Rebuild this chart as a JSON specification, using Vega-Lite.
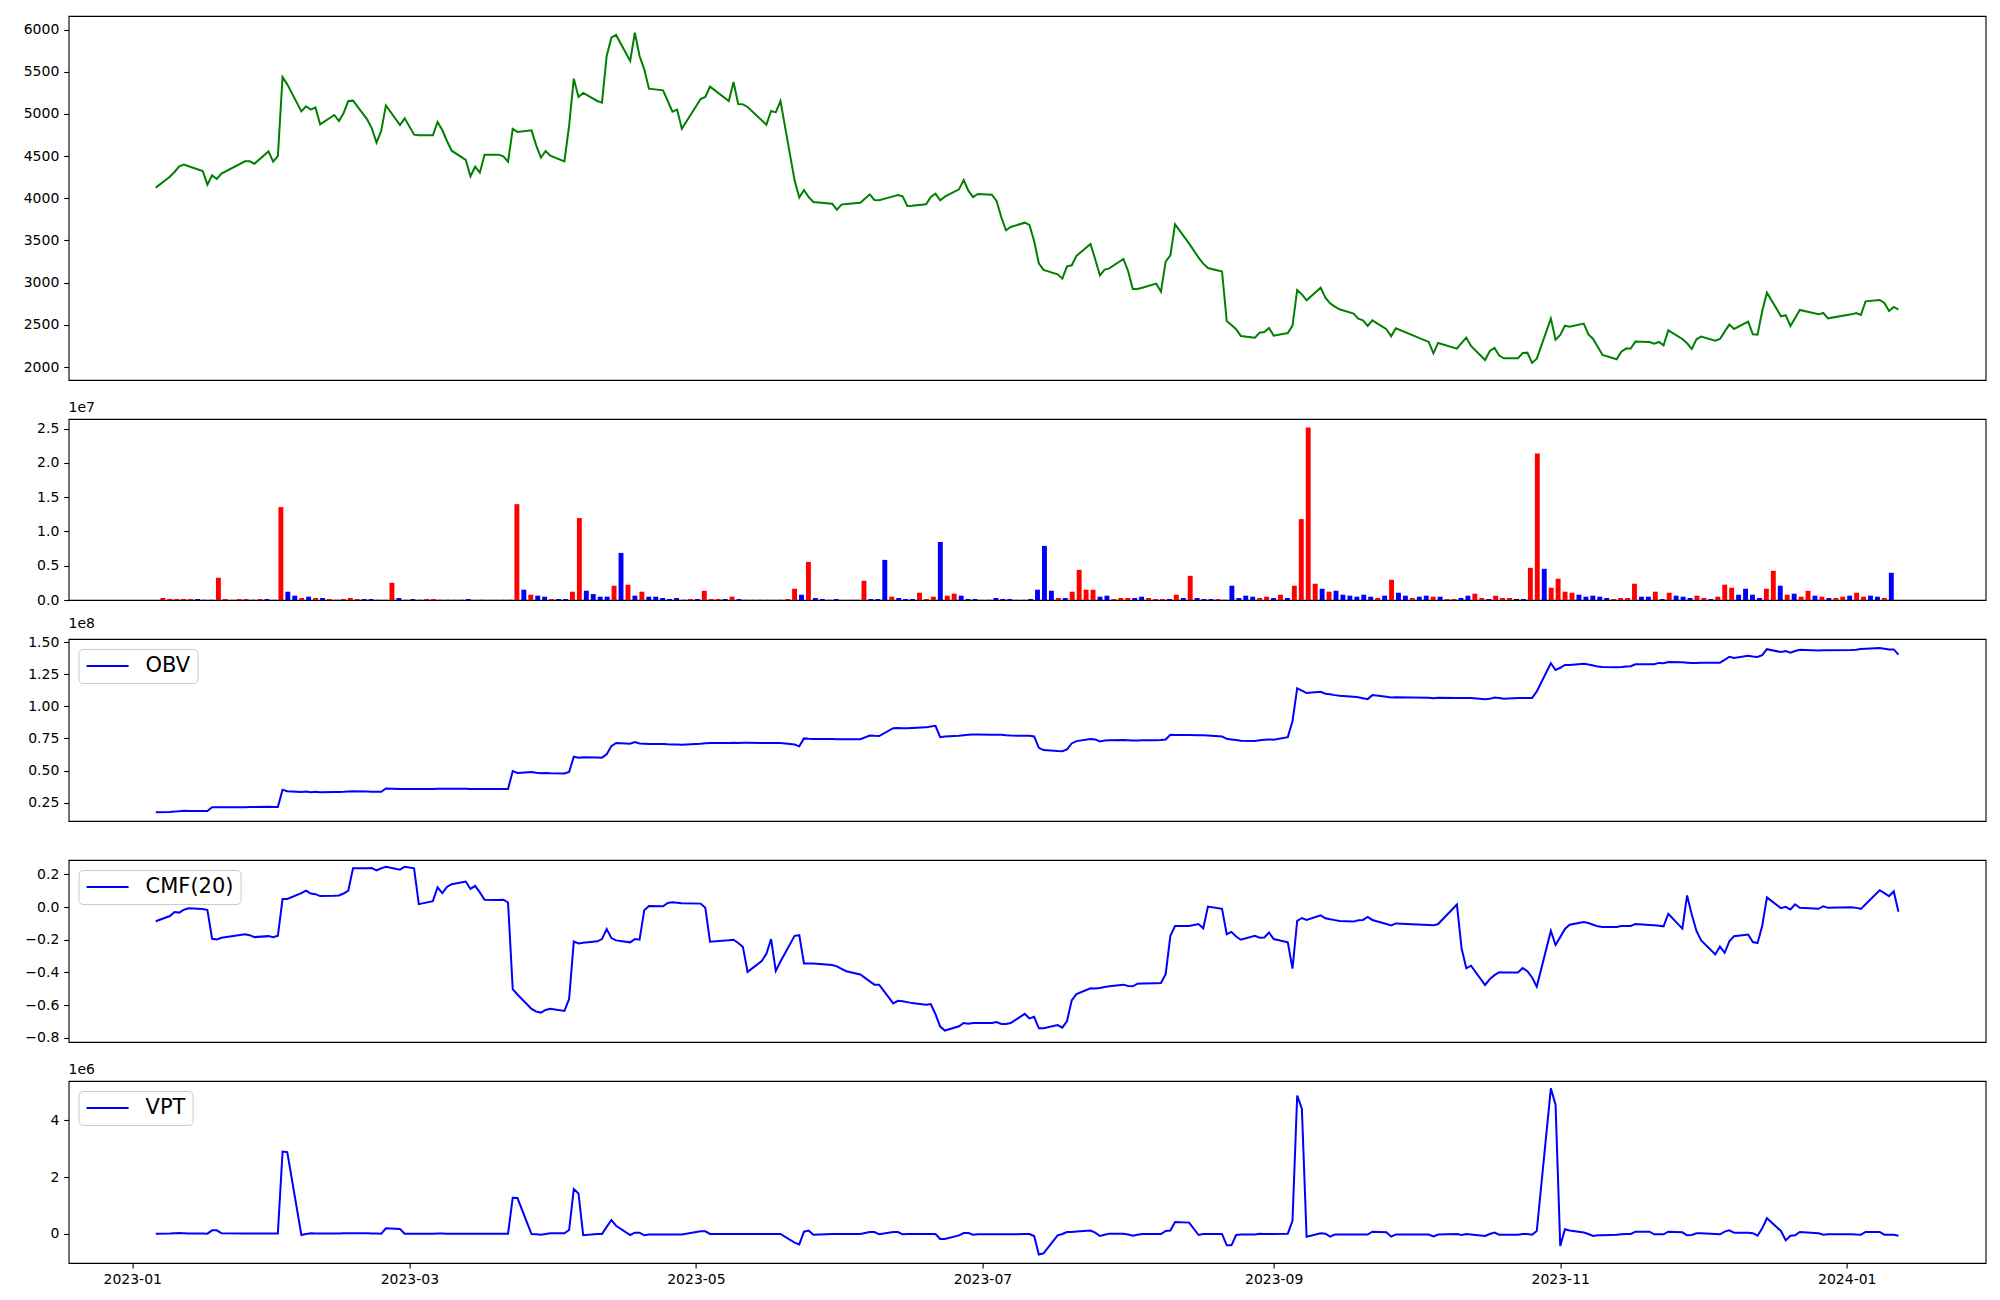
{
"$schema": "https://vega.github.io/schema/vega-lite/v6.json",
"padding": {"left": 22.6, "top": 15, "right": 0, "bottom": 0},
"background": "white",
"bounds": "flush",
"spacing": 39,
"config": {
  "font": "DejaVu Sans",
  "view": {"stroke": "#000000", "strokeWidth": 1.1},
  "axis": {"labelFont": "DejaVu Sans", "labelFontSize": 14, "labelColor": "#000000", "tickColor": "#000000", "tickSize": 4.9, "tickWidth": 1.1, "labelPadding": 4.9, "domain": false, "grid": false},
  "title": {"font": "DejaVu Sans", "fontSize": 14, "fontWeight": "normal", "color": "#000000", "anchor": "start", "frame": "group", "offset": 4},
  "legend": {"orient": "top-left", "offset": 10.4, "padding": 7, "fillColor": "rgba(255,255,255,0.8)", "strokeColor": "#cccccc", "cornerRadius": 4, "symbolType": "stroke", "symbolSize": 1764, "symbolStrokeWidth": 2, "labelFont": "DejaVu Sans", "labelFontSize": 21, "labelColor": "#000000", "labelOffset": 16, "clipHeight": 20}
},
"resolve": {"scale": {"x": "independent", "y": "independent", "color": "independent"}, "legend": {"color": "independent"}},
"datasets": {"d": [
{"date":"2023-01-06","idx":0,"close":4126,"volume":290000,"dir":"up","obv":17600000,"cmf":-0.087,"vpt":12000},
{"date":"2023-01-09","idx":1,"close":4256,"volume":150000,"dir":"up","obv":17800000,"cmf":-0.055,"vpt":20000},
{"date":"2023-01-10","idx":2,"close":4312,"volume":150000,"dir":"up","obv":18000000,"cmf":-0.030,"vpt":30000},
{"date":"2023-01-11","idx":3,"close":4379,"volume":150000,"dir":"up","obv":18300000,"cmf":-0.034,"vpt":35000},
{"date":"2023-01-12","idx":4,"close":4399,"volume":150000,"dir":"up","obv":18600000,"cmf":-0.016,"vpt":30000},
{"date":"2023-01-13","idx":5,"close":4379,"volume":150000,"dir":"down","obv":18500000,"cmf":-0.008,"vpt":20000},
{"date":"2023-01-16","idx":6,"close":4324,"volume":30000,"dir":"down","obv":18500000,"cmf":-0.012,"vpt":15000},
{"date":"2023-01-17","idx":7,"close":4162,"volume":30000,"dir":"down","obv":18400000,"cmf":-0.018,"vpt":12000},
{"date":"2023-01-18","idx":8,"close":4272,"volume":3240000,"dir":"up","obv":21400000,"cmf":-0.194,"vpt":129000},
{"date":"2023-01-19","idx":9,"close":4229,"volume":150000,"dir":"up","obv":21400000,"cmf":-0.198,"vpt":129000},
{"date":"2023-01-20","idx":10,"close":4292,"volume":30000,"dir":"up","obv":21400000,"cmf":-0.188,"vpt":23000},
{"date":"2023-01-25","idx":11,"close":4438,"volume":150000,"dir":"up","obv":21500000,"cmf":-0.166,"vpt":20000},
{"date":"2023-01-26","idx":12,"close":4438,"volume":150000,"dir":"up","obv":21600000,"cmf":-0.172,"vpt":20000},
{"date":"2023-01-27","idx":13,"close":4410,"volume":30000,"dir":"down","obv":21600000,"cmf":-0.184,"vpt":20000},
{"date":"2023-01-30","idx":14,"close":4556,"volume":150000,"dir":"up","obv":21700000,"cmf":-0.178,"vpt":20000},
{"date":"2023-01-31","idx":15,"close":4434,"volume":150000,"dir":"down","obv":21600000,"cmf":-0.184,"vpt":20000},
{"date":"2023-02-01","idx":16,"close":4501,"volume":30000,"dir":"up","obv":21600000,"cmf":-0.176,"vpt":20000},
{"date":"2023-02-02","idx":17,"close":5437,"volume":13550000,"dir":"up","obv":35100000,"cmf":0.049,"vpt":2900000},
{"date":"2023-02-03","idx":18,"close":5350,"volume":1210000,"dir":"down","obv":33900000,"cmf":0.049,"vpt":2880000},
{"date":"2023-02-06","idx":19,"close":5030,"volume":630000,"dir":"down","obv":33300000,"cmf":0.085,"vpt":-35000},
{"date":"2023-02-07","idx":20,"close":5090,"volume":290000,"dir":"up","obv":33600000,"cmf":0.101,"vpt":0},
{"date":"2023-02-08","idx":21,"close":5050,"volume":480000,"dir":"down","obv":33100000,"cmf":0.083,"vpt":23000},
{"date":"2023-02-09","idx":22,"close":5078,"volume":290000,"dir":"up","obv":33400000,"cmf":0.079,"vpt":20000},
{"date":"2023-02-10","idx":23,"close":4876,"volume":290000,"dir":"down","obv":33100000,"cmf":0.067,"vpt":20000},
{"date":"2023-02-13","idx":24,"close":4987,"volume":150000,"dir":"up","obv":33300000,"cmf":0.069,"vpt":20000},
{"date":"2023-02-14","idx":25,"close":4916,"volume":30000,"dir":"down","obv":33300000,"cmf":0.071,"vpt":20000},
{"date":"2023-02-15","idx":26,"close":5011,"volume":150000,"dir":"up","obv":33400000,"cmf":0.083,"vpt":25000},
{"date":"2023-02-16","idx":27,"close":5153,"volume":290000,"dir":"up","obv":33700000,"cmf":0.101,"vpt":30000},
{"date":"2023-02-17","idx":28,"close":5157,"volume":150000,"dir":"up","obv":33800000,"cmf":0.237,"vpt":30000},
{"date":"2023-02-20","idx":29,"close":4936,"volume":150000,"dir":"down","obv":33700000,"cmf":0.238,"vpt":25000},
{"date":"2023-02-21","idx":30,"close":4829,"volume":150000,"dir":"down","obv":33500000,"cmf":0.239,"vpt":20000},
{"date":"2023-02-22","idx":31,"close":4659,"volume":30000,"dir":"down","obv":33500000,"cmf":0.225,"vpt":15000},
{"date":"2023-02-23","idx":32,"close":4797,"volume":30000,"dir":"up","obv":33500000,"cmf":0.237,"vpt":12000},
{"date":"2023-02-24","idx":33,"close":5101,"volume":2520000,"dir":"up","obv":36000000,"cmf":0.247,"vpt":199000},
{"date":"2023-02-27","idx":34,"close":4868,"volume":290000,"dir":"down","obv":35700000,"cmf":0.229,"vpt":175000},
{"date":"2023-02-28","idx":35,"close":4947,"volume":30000,"dir":"up","obv":35700000,"cmf":0.247,"vpt":12000},
{"date":"2023-03-02","idx":36,"close":4754,"volume":150000,"dir":"down","obv":35600000,"cmf":0.237,"vpt":10000},
{"date":"2023-03-03","idx":37,"close":4746,"volume":30000,"dir":"down","obv":35600000,"cmf":0.018,"vpt":10000},
{"date":"2023-03-06","idx":38,"close":4746,"volume":150000,"dir":"up","obv":35700000,"cmf":0.036,"vpt":12000},
{"date":"2023-03-07","idx":39,"close":4904,"volume":150000,"dir":"up","obv":35900000,"cmf":0.121,"vpt":15000},
{"date":"2023-03-08","idx":40,"close":4809,"volume":30000,"dir":"down","obv":35900000,"cmf":0.085,"vpt":15000},
{"date":"2023-03-09","idx":41,"close":4679,"volume":30000,"dir":"down","obv":35900000,"cmf":0.123,"vpt":12000},
{"date":"2023-03-10","idx":42,"close":4564,"volume":30000,"dir":"down","obv":35800000,"cmf":0.140,"vpt":10000},
{"date":"2023-03-13","idx":43,"close":4454,"volume":30000,"dir":"down","obv":35800000,"cmf":0.156,"vpt":10000},
{"date":"2023-03-14","idx":44,"close":4260,"volume":150000,"dir":"down","obv":35600000,"cmf":0.111,"vpt":10000},
{"date":"2023-03-15","idx":45,"close":4375,"volume":30000,"dir":"up","obv":35600000,"cmf":0.130,"vpt":12000},
{"date":"2023-03-16","idx":46,"close":4304,"volume":30000,"dir":"down","obv":35600000,"cmf":0.090,"vpt":12000},
{"date":"2023-03-17","idx":47,"close":4517,"volume":30000,"dir":"up","obv":35600000,"cmf":0.045,"vpt":12000},
{"date":"2023-03-20","idx":48,"close":4517,"volume":30000,"dir":"up","obv":35600000,"cmf":0.043,"vpt":12000},
{"date":"2023-03-21","idx":49,"close":4497,"volume":30000,"dir":"down","obv":35600000,"cmf":0.045,"vpt":12000},
{"date":"2023-03-22","idx":50,"close":4434,"volume":30000,"dir":"down","obv":35600000,"cmf":0.028,"vpt":12000},
{"date":"2023-03-23","idx":51,"close":4821,"volume":13980000,"dir":"up","obv":49600000,"cmf":-0.502,"vpt":1275000},
{"date":"2023-03-24","idx":52,"close":4786,"volume":1500000,"dir":"down","obv":48100000,"cmf":-0.535,"vpt":1263000},
{"date":"2023-03-27","idx":53,"close":4805,"volume":770000,"dir":"up","obv":48900000,"cmf":-0.623,"vpt":0},
{"date":"2023-03-28","idx":54,"close":4627,"volume":630000,"dir":"down","obv":48300000,"cmf":-0.640,"vpt":-10000},
{"date":"2023-03-29","idx":55,"close":4481,"volume":480000,"dir":"down","obv":47800000,"cmf":-0.646,"vpt":-23000},
{"date":"2023-03-30","idx":56,"close":4560,"volume":150000,"dir":"up","obv":48000000,"cmf":-0.630,"vpt":0},
{"date":"2023-03-31","idx":57,"close":4505,"volume":150000,"dir":"down","obv":47800000,"cmf":-0.623,"vpt":23000},
{"date":"2023-04-03","idx":58,"close":4438,"volume":150000,"dir":"down","obv":47700000,"cmf":-0.636,"vpt":23000},
{"date":"2023-04-04","idx":59,"close":4857,"volume":1210000,"dir":"up","obv":48900000,"cmf":-0.563,"vpt":140000},
{"date":"2023-04-05","idx":60,"close":5417,"volume":11950000,"dir":"up","obv":60800000,"cmf":-0.211,"vpt":1579000},
{"date":"2023-04-06","idx":61,"close":5200,"volume":1350000,"dir":"down","obv":60000000,"cmf":-0.223,"vpt":1427000},
{"date":"2023-04-07","idx":62,"close":5248,"volume":870000,"dir":"down","obv":60400000,"cmf":-0.218,"vpt":-40000},
{"date":"2023-04-10","idx":63,"close":5153,"volume":480000,"dir":"down","obv":60200000,"cmf":-0.210,"vpt":0},
{"date":"2023-04-11","idx":64,"close":5133,"volume":480000,"dir":"down","obv":60000000,"cmf":-0.196,"vpt":0},
{"date":"2023-04-12","idx":65,"close":5686,"volume":2080000,"dir":"up","obv":62600000,"cmf":-0.134,"vpt":250000},
{"date":"2023-04-13","idx":66,"close":5903,"volume":6870000,"dir":"down","obv":69000000,"cmf":-0.190,"vpt":490000},
{"date":"2023-04-14","idx":67,"close":5935,"volume":2230000,"dir":"up","obv":71400000,"cmf":-0.204,"vpt":290000},
{"date":"2023-04-17","idx":68,"close":5627,"volume":630000,"dir":"down","obv":70900000,"cmf":-0.216,"vpt":-35000},
{"date":"2023-04-18","idx":69,"close":5962,"volume":1210000,"dir":"up","obv":72200000,"cmf":-0.196,"vpt":47000},
{"date":"2023-04-19","idx":70,"close":5686,"volume":480000,"dir":"down","obv":71100000,"cmf":-0.200,"vpt":47000},
{"date":"2023-04-20","idx":71,"close":5528,"volume":480000,"dir":"down","obv":70900000,"cmf":-0.019,"vpt":-47000},
{"date":"2023-04-21","idx":72,"close":5299,"volume":290000,"dir":"down","obv":70700000,"cmf":0.007,"vpt":-20000},
{"date":"2023-04-24","idx":73,"close":5279,"volume":150000,"dir":"down","obv":70600000,"cmf":0.005,"vpt":-20000},
{"date":"2023-04-25","idx":74,"close":5153,"volume":290000,"dir":"down","obv":70400000,"cmf":0.025,"vpt":-20000},
{"date":"2023-04-26","idx":75,"close":5026,"volume":30000,"dir":"down","obv":70300000,"cmf":0.029,"vpt":-20000},
{"date":"2023-04-27","idx":76,"close":5050,"volume":150000,"dir":"up","obv":70200000,"cmf":0.026,"vpt":-20000},
{"date":"2023-04-28","idx":77,"close":4825,"volume":150000,"dir":"down","obv":70100000,"cmf":0.023,"vpt":-20000},
{"date":"2023-05-02","idx":78,"close":5176,"volume":1350000,"dir":"up","obv":70800000,"cmf":0.021,"vpt":94000},
{"date":"2023-05-03","idx":79,"close":5200,"volume":150000,"dir":"up","obv":71200000,"cmf":-0.005,"vpt":94000},
{"date":"2023-05-04","idx":80,"close":5323,"volume":150000,"dir":"up","obv":71400000,"cmf":-0.212,"vpt":0},
{"date":"2023-05-08","idx":81,"close":5153,"volume":150000,"dir":"down","obv":71500000,"cmf":-0.203,"vpt":0},
{"date":"2023-05-09","idx":82,"close":5378,"volume":480000,"dir":"up","obv":71600000,"cmf":-0.200,"vpt":0},
{"date":"2023-05-10","idx":83,"close":5117,"volume":150000,"dir":"down","obv":71500000,"cmf":-0.220,"vpt":0},
{"date":"2023-05-11","idx":84,"close":5113,"volume":30000,"dir":"down","obv":71600000,"cmf":-0.244,"vpt":0},
{"date":"2023-05-12","idx":85,"close":5082,"volume":30000,"dir":"down","obv":71600000,"cmf":-0.397,"vpt":0},
{"date":"2023-05-15","idx":86,"close":4924,"volume":30000,"dir":"down","obv":71500000,"cmf":-0.331,"vpt":0},
{"date":"2023-05-16","idx":87,"close":4872,"volume":30000,"dir":"down","obv":71500000,"cmf":-0.286,"vpt":0},
{"date":"2023-05-17","idx":88,"close":5034,"volume":30000,"dir":"up","obv":71500000,"cmf":-0.196,"vpt":0},
{"date":"2023-05-18","idx":89,"close":5018,"volume":30000,"dir":"down","obv":71400000,"cmf":-0.391,"vpt":0},
{"date":"2023-05-19","idx":90,"close":5153,"volume":150000,"dir":"up","obv":71400000,"cmf":-0.333,"vpt":0},
{"date":"2023-05-22","idx":91,"close":4213,"volume":1640000,"dir":"up","obv":70200000,"cmf":-0.176,"vpt":-306000},
{"date":"2023-05-23","idx":92,"close":4008,"volume":770000,"dir":"down","obv":68800000,"cmf":-0.172,"vpt":-365000},
{"date":"2023-05-24","idx":93,"close":4098,"volume":5560000,"dir":"up","obv":75000000,"cmf":-0.345,"vpt":82000},
{"date":"2023-05-25","idx":94,"close":4015,"volume":290000,"dir":"down","obv":74700000,"cmf":-0.345,"vpt":118000},
{"date":"2023-05-26","idx":95,"close":3956,"volume":150000,"dir":"down","obv":74500000,"cmf":-0.345,"vpt":-24000},
{"date":"2023-05-30","idx":96,"close":3936,"volume":30000,"dir":"down","obv":74500000,"cmf":-0.355,"vpt":0},
{"date":"2023-05-31","idx":97,"close":3865,"volume":150000,"dir":"down","obv":74400000,"cmf":-0.363,"vpt":0},
{"date":"2023-06-01","idx":98,"close":3925,"volume":30000,"dir":"up","obv":74300000,"cmf":-0.378,"vpt":0},
{"date":"2023-06-02","idx":99,"close":3933,"volume":30000,"dir":"up","obv":74300000,"cmf":-0.393,"vpt":0},
{"date":"2023-06-05","idx":100,"close":3948,"volume":30000,"dir":"up","obv":74400000,"cmf":-0.413,"vpt":0},
{"date":"2023-06-07","idx":101,"close":4047,"volume":2810000,"dir":"up","obv":77300000,"cmf":-0.455,"vpt":70000},
{"date":"2023-06-08","idx":102,"close":3980,"volume":150000,"dir":"down","obv":77000000,"cmf":-0.475,"vpt":70000},
{"date":"2023-06-09","idx":103,"close":3976,"volume":150000,"dir":"down","obv":76800000,"cmf":-0.475,"vpt":-10000},
{"date":"2023-06-12","idx":104,"close":4023,"volume":5850000,"dir":"down","obv":83000000,"cmf":-0.590,"vpt":70000},
{"date":"2023-06-13","idx":105,"close":4039,"volume":480000,"dir":"up","obv":83200000,"cmf":-0.574,"vpt":70000},
{"date":"2023-06-14","idx":106,"close":4023,"volume":290000,"dir":"down","obv":82900000,"cmf":-0.576,"vpt":-10000},
{"date":"2023-06-15","idx":107,"close":3909,"volume":150000,"dir":"down","obv":83000000,"cmf":-0.582,"vpt":0},
{"date":"2023-06-16","idx":108,"close":3913,"volume":150000,"dir":"down","obv":83100000,"cmf":-0.588,"vpt":0},
{"date":"2023-06-19","idx":109,"close":3929,"volume":1060000,"dir":"up","obv":83600000,"cmf":-0.598,"vpt":0},
{"date":"2023-06-20","idx":110,"close":4015,"volume":150000,"dir":"up","obv":84200000,"cmf":-0.594,"vpt":0},
{"date":"2023-06-21","idx":111,"close":4055,"volume":480000,"dir":"up","obv":84800000,"cmf":-0.656,"vpt":0},
{"date":"2023-06-22","idx":112,"close":3976,"volume":8470000,"dir":"down","obv":76000000,"cmf":-0.732,"vpt":-176000},
{"date":"2023-06-23","idx":113,"close":4019,"volume":630000,"dir":"up","obv":76500000,"cmf":-0.756,"vpt":-176000},
{"date":"2023-06-26","idx":114,"close":4106,"volume":920000,"dir":"up","obv":77000000,"cmf":-0.730,"vpt":-50000},
{"date":"2023-06-27","idx":115,"close":4217,"volume":630000,"dir":"down","obv":77500000,"cmf":-0.710,"vpt":35000},
{"date":"2023-06-28","idx":116,"close":4090,"volume":150000,"dir":"down","obv":77800000,"cmf":-0.714,"vpt":35000},
{"date":"2023-06-29","idx":117,"close":4015,"volume":150000,"dir":"down","obv":78100000,"cmf":-0.710,"vpt":-24000},
{"date":"2023-06-30","idx":118,"close":4051,"volume":30000,"dir":"up","obv":78000000,"cmf":-0.710,"vpt":-10000},
{"date":"2023-07-03","idx":119,"close":4043,"volume":30000,"dir":"down","obv":77900000,"cmf":-0.710,"vpt":-10000},
{"date":"2023-07-04","idx":120,"close":3968,"volume":290000,"dir":"down","obv":77800000,"cmf":-0.704,"vpt":-10000},
{"date":"2023-07-05","idx":121,"close":3778,"volume":150000,"dir":"down","obv":77800000,"cmf":-0.716,"vpt":-10000},
{"date":"2023-07-06","idx":122,"close":3621,"volume":150000,"dir":"down","obv":77400000,"cmf":-0.716,"vpt":-10000},
{"date":"2023-07-07","idx":123,"close":3660,"volume":30000,"dir":"up","obv":77200000,"cmf":-0.710,"vpt":-10000},
{"date":"2023-07-10","idx":124,"close":3711,"volume":30000,"dir":"up","obv":77100000,"cmf":-0.654,"vpt":0},
{"date":"2023-07-11","idx":125,"close":3684,"volume":150000,"dir":"down","obv":77100000,"cmf":-0.682,"vpt":0},
{"date":"2023-07-12","idx":126,"close":3494,"volume":1500000,"dir":"down","obv":76500000,"cmf":-0.672,"vpt":-70000},
{"date":"2023-07-13","idx":127,"close":3230,"volume":7890000,"dir":"down","obv":67700000,"cmf":-0.742,"vpt":-720000},
{"date":"2023-07-14","idx":128,"close":3151,"volume":1350000,"dir":"down","obv":65900000,"cmf":-0.742,"vpt":-680000},
{"date":"2023-07-17","idx":129,"close":3099,"volume":290000,"dir":"up","obv":65200000,"cmf":-0.722,"vpt":-50000},
{"date":"2023-07-18","idx":130,"close":3048,"volume":290000,"dir":"down","obv":65100000,"cmf":-0.738,"vpt":0},
{"date":"2023-07-19","idx":131,"close":3194,"volume":1210000,"dir":"up","obv":66400000,"cmf":-0.698,"vpt":70000},
{"date":"2023-07-20","idx":132,"close":3206,"volume":4400000,"dir":"up","obv":71100000,"cmf":-0.571,"vpt":70000},
{"date":"2023-07-21","idx":133,"close":3317,"volume":1500000,"dir":"up","obv":72900000,"cmf":-0.533,"vpt":90000},
{"date":"2023-07-24","idx":134,"close":3459,"volume":1500000,"dir":"up","obv":74500000,"cmf":-0.497,"vpt":120000},
{"date":"2023-07-25","idx":135,"close":3277,"volume":480000,"dir":"down","obv":74200000,"cmf":-0.499,"vpt":50000},
{"date":"2023-07-26","idx":136,"close":3087,"volume":630000,"dir":"down","obv":72700000,"cmf":-0.495,"vpt":-70000},
{"date":"2023-07-27","idx":137,"close":3155,"volume":150000,"dir":"up","obv":73300000,"cmf":-0.490,"vpt":-30000},
{"date":"2023-07-28","idx":138,"close":3170,"volume":290000,"dir":"up","obv":73500000,"cmf":-0.485,"vpt":12000},
{"date":"2023-07-31","idx":139,"close":3281,"volume":290000,"dir":"up","obv":73700000,"cmf":-0.475,"vpt":12000},
{"date":"2023-08-01","idx":140,"close":3139,"volume":290000,"dir":"down","obv":73600000,"cmf":-0.483,"vpt":-20000},
{"date":"2023-08-02","idx":141,"close":2926,"volume":480000,"dir":"down","obv":73400000,"cmf":-0.485,"vpt":-60000},
{"date":"2023-08-03","idx":142,"close":2926,"volume":290000,"dir":"up","obv":73400000,"cmf":-0.469,"vpt":-30000},
{"date":"2023-08-04","idx":143,"close":2941,"volume":150000,"dir":"up","obv":73500000,"cmf":-0.468,"vpt":0},
{"date":"2023-08-07","idx":144,"close":2989,"volume":150000,"dir":"up","obv":73600000,"cmf":-0.466,"vpt":0},
{"date":"2023-08-08","idx":145,"close":2894,"volume":150000,"dir":"down","obv":73700000,"cmf":-0.465,"vpt":0},
{"date":"2023-08-09","idx":146,"close":3249,"volume":770000,"dir":"up","obv":74200000,"cmf":-0.411,"vpt":106000},
{"date":"2023-08-10","idx":147,"close":3324,"volume":290000,"dir":"down","obv":77800000,"cmf":-0.176,"vpt":120000},
{"date":"2023-08-11","idx":148,"close":3692,"volume":3530000,"dir":"up","obv":77700000,"cmf":-0.116,"vpt":420000},
{"date":"2023-08-14","idx":149,"close":3463,"volume":290000,"dir":"down","obv":77600000,"cmf":-0.116,"vpt":400000},
{"date":"2023-08-16","idx":150,"close":3297,"volume":150000,"dir":"down","obv":77500000,"cmf":-0.104,"vpt":-35000},
{"date":"2023-08-17","idx":151,"close":3226,"volume":150000,"dir":"down","obv":77400000,"cmf":-0.130,"vpt":0},
{"date":"2023-08-18","idx":152,"close":3174,"volume":150000,"dir":"up","obv":77300000,"cmf":0.003,"vpt":0},
{"date":"2023-08-21","idx":153,"close":3131,"volume":30000,"dir":"down","obv":76500000,"cmf":-0.011,"vpt":0},
{"date":"2023-08-22","idx":154,"close":2546,"volume":2080000,"dir":"down","obv":74700000,"cmf":-0.166,"vpt":-400000},
{"date":"2023-08-23","idx":155,"close":2499,"volume":290000,"dir":"down","obv":74200000,"cmf":-0.152,"vpt":-400000},
{"date":"2023-08-24","idx":156,"close":2448,"volume":630000,"dir":"down","obv":73700000,"cmf":-0.180,"vpt":-35000},
{"date":"2023-08-25","idx":157,"close":2369,"volume":480000,"dir":"down","obv":73200000,"cmf":-0.200,"vpt":-20000},
{"date":"2023-08-28","idx":158,"close":2349,"volume":290000,"dir":"up","obv":73000000,"cmf":-0.176,"vpt":-20000},
{"date":"2023-08-29","idx":159,"close":2408,"volume":480000,"dir":"up","obv":73500000,"cmf":-0.188,"vpt":12000},
{"date":"2023-08-30","idx":160,"close":2416,"volume":290000,"dir":"down","obv":74000000,"cmf":-0.186,"vpt":0},
{"date":"2023-08-31","idx":161,"close":2463,"volume":770000,"dir":"up","obv":74200000,"cmf":-0.156,"vpt":0},
{"date":"2023-09-01","idx":162,"close":2373,"volume":290000,"dir":"down","obv":74000000,"cmf":-0.196,"vpt":0},
{"date":"2023-09-04","idx":163,"close":2404,"volume":2080000,"dir":"up","obv":76000000,"cmf":-0.216,"vpt":12000},
{"date":"2023-09-05","idx":164,"close":2491,"volume":11800000,"dir":"up","obv":88400000,"cmf":-0.377,"vpt":460000},
{"date":"2023-09-06","idx":165,"close":2914,"volume":25160000,"dir":"up","obv":114100000,"cmf":-0.084,"vpt":4870000},
{"date":"2023-09-07","idx":166,"close":2862,"volume":2370000,"dir":"up","obv":112200000,"cmf":-0.067,"vpt":4400000},
{"date":"2023-09-08","idx":167,"close":2791,"volume":1640000,"dir":"down","obv":110300000,"cmf":-0.079,"vpt":-94000},
{"date":"2023-09-11","idx":168,"close":2941,"volume":1210000,"dir":"up","obv":111300000,"cmf":-0.051,"vpt":24000},
{"date":"2023-09-12","idx":169,"close":2823,"volume":1350000,"dir":"down","obv":109800000,"cmf":-0.069,"vpt":12000},
{"date":"2023-09-13","idx":170,"close":2756,"volume":770000,"dir":"down","obv":109400000,"cmf":-0.075,"vpt":-94000},
{"date":"2023-09-14","idx":171,"close":2716,"volume":630000,"dir":"down","obv":108700000,"cmf":-0.080,"vpt":-20000},
{"date":"2023-09-15","idx":172,"close":2685,"volume":480000,"dir":"down","obv":108200000,"cmf":-0.085,"vpt":-20000},
{"date":"2023-09-18","idx":173,"close":2633,"volume":770000,"dir":"down","obv":107500000,"cmf":-0.089,"vpt":-20000},
{"date":"2023-09-19","idx":174,"close":2574,"volume":480000,"dir":"down","obv":107000000,"cmf":-0.081,"vpt":-20000},
{"date":"2023-09-20","idx":175,"close":2554,"volume":290000,"dir":"up","obv":106300000,"cmf":-0.079,"vpt":-20000},
{"date":"2023-09-21","idx":176,"close":2487,"volume":630000,"dir":"down","obv":105600000,"cmf":-0.061,"vpt":-20000},
{"date":"2023-09-22","idx":177,"close":2554,"volume":2950000,"dir":"up","obv":108700000,"cmf":-0.079,"vpt":82000},
{"date":"2023-09-25","idx":178,"close":2448,"volume":1060000,"dir":"down","obv":107500000,"cmf":-0.104,"vpt":60000},
{"date":"2023-09-26","idx":179,"close":2365,"volume":630000,"dir":"down","obv":106900000,"cmf":-0.112,"vpt":-94000},
{"date":"2023-09-27","idx":180,"close":2460,"volume":290000,"dir":"up","obv":107000000,"cmf":-0.100,"vpt":-20000},
{"date":"2023-10-04","idx":181,"close":2298,"volume":480000,"dir":"down","obv":106700000,"cmf":-0.110,"vpt":-20000},
{"date":"2023-10-05","idx":182,"close":2163,"volume":630000,"dir":"down","obv":106200000,"cmf":-0.112,"vpt":-82000},
{"date":"2023-10-06","idx":183,"close":2286,"volume":480000,"dir":"up","obv":106600000,"cmf":-0.104,"vpt":-20000},
{"date":"2023-10-10","idx":184,"close":2219,"volume":480000,"dir":"down","obv":106500000,"cmf":0.015,"vpt":0},
{"date":"2023-10-11","idx":185,"close":2286,"volume":150000,"dir":"up","obv":106400000,"cmf":-0.254,"vpt":-35000},
{"date":"2023-10-12","idx":186,"close":2349,"volume":150000,"dir":"up","obv":106400000,"cmf":-0.375,"vpt":0},
{"date":"2023-10-13","idx":187,"close":2250,"volume":290000,"dir":"down","obv":106400000,"cmf":-0.359,"vpt":-20000},
{"date":"2023-10-16","idx":188,"close":2084,"volume":630000,"dir":"down","obv":105400000,"cmf":-0.477,"vpt":-70000},
{"date":"2023-10-17","idx":189,"close":2191,"volume":920000,"dir":"up","obv":105800000,"cmf":-0.441,"vpt":0},
{"date":"2023-10-18","idx":190,"close":2227,"volume":290000,"dir":"up","obv":106900000,"cmf":-0.417,"vpt":47000},
{"date":"2023-10-19","idx":191,"close":2136,"volume":150000,"dir":"down","obv":106400000,"cmf":-0.399,"vpt":-24000},
{"date":"2023-10-20","idx":192,"close":2104,"volume":630000,"dir":"up","obv":105900000,"cmf":-0.401,"vpt":-24000},
{"date":"2023-10-23","idx":193,"close":2104,"volume":290000,"dir":"up","obv":106400000,"cmf":-0.401,"vpt":-24000},
{"date":"2023-10-24","idx":194,"close":2167,"volume":290000,"dir":"up","obv":106500000,"cmf":-0.373,"vpt":0},
{"date":"2023-10-25","idx":195,"close":2171,"volume":150000,"dir":"flat","obv":106500000,"cmf":-0.393,"vpt":0},
{"date":"2023-10-26","idx":196,"close":2049,"volume":150000,"dir":"down","obv":106400000,"cmf":-0.431,"vpt":-24000},
{"date":"2023-10-27","idx":197,"close":2100,"volume":4690000,"dir":"up","obv":111600000,"cmf":-0.487,"vpt":106000},
{"date":"2023-10-30","idx":198,"close":2574,"volume":21380000,"dir":"up","obv":133500000,"cmf":-0.146,"vpt":5120000},
{"date":"2023-10-31","idx":199,"close":2325,"volume":4550000,"dir":"down","obv":128300000,"cmf":-0.232,"vpt":4550000},
{"date":"2023-11-01","idx":200,"close":2381,"volume":1790000,"dir":"up","obv":130000000,"cmf":-0.184,"vpt":-420000},
{"date":"2023-11-02","idx":201,"close":2491,"volume":3100000,"dir":"up","obv":132200000,"cmf":-0.134,"vpt":165000},
{"date":"2023-11-03","idx":202,"close":2479,"volume":1210000,"dir":"up","obv":132200000,"cmf":-0.108,"vpt":120000},
{"date":"2023-11-06","idx":203,"close":2515,"volume":1060000,"dir":"up","obv":133200000,"cmf":-0.092,"vpt":50000},
{"date":"2023-11-07","idx":204,"close":2388,"volume":770000,"dir":"down","obv":132500000,"cmf":-0.098,"vpt":0},
{"date":"2023-11-08","idx":205,"close":2333,"volume":480000,"dir":"down","obv":131800000,"cmf":-0.108,"vpt":-70000},
{"date":"2023-11-09","idx":206,"close":2238,"volume":630000,"dir":"down","obv":130900000,"cmf":-0.118,"vpt":-47000},
{"date":"2023-11-10","idx":207,"close":2144,"volume":480000,"dir":"down","obv":130600000,"cmf":-0.122,"vpt":-47000},
{"date":"2023-11-13","idx":208,"close":2092,"volume":290000,"dir":"down","obv":130400000,"cmf":-0.122,"vpt":-24000},
{"date":"2023-11-14","idx":209,"close":2183,"volume":150000,"dir":"up","obv":130600000,"cmf":-0.116,"vpt":-10000},
{"date":"2023-11-15","idx":210,"close":2219,"volume":290000,"dir":"up","obv":130900000,"cmf":-0.116,"vpt":0},
{"date":"2023-11-16","idx":211,"close":2219,"volume":290000,"dir":"up","obv":131200000,"cmf":-0.116,"vpt":0},
{"date":"2023-11-17","idx":212,"close":2302,"volume":2370000,"dir":"up","obv":132700000,"cmf":-0.104,"vpt":82000},
{"date":"2023-11-20","idx":213,"close":2298,"volume":480000,"dir":"down","obv":132700000,"cmf":-0.110,"vpt":82000},
{"date":"2023-11-21","idx":214,"close":2278,"volume":480000,"dir":"down","obv":132700000,"cmf":-0.112,"vpt":-10000},
{"date":"2023-11-22","idx":215,"close":2298,"volume":1210000,"dir":"up","obv":133800000,"cmf":-0.114,"vpt":-10000},
{"date":"2023-11-23","idx":216,"close":2258,"volume":150000,"dir":"down","obv":133600000,"cmf":-0.118,"vpt":-10000},
{"date":"2023-11-24","idx":217,"close":2436,"volume":1060000,"dir":"up","obv":134500000,"cmf":-0.041,"vpt":82000},
{"date":"2023-11-27","idx":218,"close":2333,"volume":630000,"dir":"down","obv":134300000,"cmf":-0.132,"vpt":60000},
{"date":"2023-11-28","idx":219,"close":2282,"volume":480000,"dir":"down","obv":134000000,"cmf":0.071,"vpt":-47000},
{"date":"2023-11-29","idx":220,"close":2215,"volume":290000,"dir":"down","obv":133700000,"cmf":-0.045,"vpt":-35000},
{"date":"2023-11-30","idx":221,"close":2329,"volume":630000,"dir":"up","obv":133800000,"cmf":-0.146,"vpt":24000},
{"date":"2023-12-01","idx":222,"close":2361,"volume":290000,"dir":"up","obv":134000000,"cmf":-0.204,"vpt":24000},
{"date":"2023-12-04","idx":223,"close":2313,"volume":150000,"dir":"down","obv":134000000,"cmf":-0.290,"vpt":0},
{"date":"2023-12-05","idx":224,"close":2333,"volume":480000,"dir":"up","obv":134000000,"cmf":-0.242,"vpt":-10000},
{"date":"2023-12-06","idx":225,"close":2420,"volume":2230000,"dir":"up","obv":136200000,"cmf":-0.280,"vpt":82000},
{"date":"2023-12-07","idx":226,"close":2503,"volume":1790000,"dir":"up","obv":138600000,"cmf":-0.210,"vpt":130000},
{"date":"2023-12-08","idx":227,"close":2452,"volume":770000,"dir":"down","obv":137600000,"cmf":-0.178,"vpt":47000},
{"date":"2023-12-11","idx":228,"close":2539,"volume":1640000,"dir":"down","obv":139400000,"cmf":-0.168,"vpt":47000},
{"date":"2023-12-12","idx":229,"close":2388,"volume":770000,"dir":"down","obv":138800000,"cmf":-0.214,"vpt":30000},
{"date":"2023-12-13","idx":230,"close":2385,"volume":290000,"dir":"down","obv":138400000,"cmf":-0.220,"vpt":-60000},
{"date":"2023-12-14","idx":231,"close":2665,"volume":1640000,"dir":"up","obv":139900000,"cmf":-0.114,"vpt":200000},
{"date":"2023-12-15","idx":232,"close":2882,"volume":4260000,"dir":"up","obv":144500000,"cmf":0.059,"vpt":553000},
{"date":"2023-12-18","idx":233,"close":2602,"volume":2080000,"dir":"down","obv":142200000,"cmf":-0.007,"vpt":106000},
{"date":"2023-12-19","idx":234,"close":2614,"volume":770000,"dir":"up","obv":143000000,"cmf":0.001,"vpt":-224000},
{"date":"2023-12-20","idx":235,"close":2487,"volume":920000,"dir":"down","obv":141700000,"cmf":-0.015,"vpt":-60000},
{"date":"2023-12-21","idx":236,"close":2582,"volume":480000,"dir":"up","obv":143000000,"cmf":0.017,"vpt":-47000},
{"date":"2023-12-22","idx":237,"close":2677,"volume":1350000,"dir":"up","obv":144000000,"cmf":-0.005,"vpt":70000},
{"date":"2023-12-26","idx":238,"close":2625,"volume":630000,"dir":"down","obv":143500000,"cmf":-0.011,"vpt":24000},
{"date":"2023-12-27","idx":239,"close":2641,"volume":480000,"dir":"up","obv":143600000,"cmf":0.005,"vpt":-24000},
{"date":"2023-12-28","idx":240,"close":2578,"volume":290000,"dir":"down","obv":143700000,"cmf":-0.005,"vpt":-10000},
{"date":"2024-01-02","idx":241,"close":2625,"volume":290000,"dir":"up","obv":143800000,"cmf":-0.001,"vpt":-10000},
{"date":"2024-01-03","idx":242,"close":2641,"volume":480000,"dir":"up","obv":144000000,"cmf":-0.005,"vpt":-20000},
{"date":"2024-01-04","idx":243,"close":2617,"volume":630000,"dir":"down","obv":144600000,"cmf":-0.011,"vpt":-24000},
{"date":"2024-01-05","idx":244,"close":2779,"volume":1060000,"dir":"up","obv":144800000,"cmf":0.017,"vpt":70000},
{"date":"2024-01-08","idx":245,"close":2795,"volume":480000,"dir":"up","obv":145300000,"cmf":0.103,"vpt":70000},
{"date":"2024-01-09","idx":246,"close":2760,"volume":630000,"dir":"down","obv":144800000,"cmf":0.085,"vpt":-24000},
{"date":"2024-01-10","idx":247,"close":2665,"volume":480000,"dir":"down","obv":144300000,"cmf":0.067,"vpt":-30000},
{"date":"2024-01-11","idx":248,"close":2712,"volume":290000,"dir":"up","obv":144300000,"cmf":0.097,"vpt":-24000},
{"date":"2024-01-12","idx":249,"close":2681,"volume":3970000,"dir":"down","obv":140200000,"cmf":-0.029,"vpt":-60000}
]},
"data": {"name": "d"},
"vconcat": [
  {
    "width": 1917, "height": 364,
    "mark": {"type": "line", "color": "#008000", "strokeWidth": 2},
    "encoding": {
      "x": {"field": "date", "type": "temporal", "scale": {"type": "utc", "domain": [{"year": 2022, "month": 12, "date": 18, "hours": 10, "minutes": 48, "utc": true}, {"year": 2024, "month": 1, "date": 30, "hours": 13, "minutes": 12, "utc": true}]}, "axis": null},
      "y": {"field": "close", "type": "quantitative", "scale": {"domain": [1847, 6160], "nice": false, "zero": false}, "axis": {"title": null, "values": [2000, 2500, 3000, 3500, 4000, 4500, 5000, 5500, 6000], "format": "d"}}
    }
  },
  {
    "width": 1917, "height": 181,
    "title": {"text": "1e7"},
    "mark": {"type": "bar", "width": 4.9, "orient": "vertical"},
    "encoding": {
      "x": {"field": "idx", "type": "quantitative", "scale": {"domain": [-12.86, 261.86], "nice": false, "zero": false}, "axis": null},
      "y": {"field": "volume", "type": "quantitative", "stack": null, "scale": {"domain": [0, 26400000], "nice": false}, "axis": {"title": null, "values": [0, 5000000, 10000000, 15000000, 20000000, 25000000], "labelExpr": "format(datum.value / 10000000, '.1f')"}},
      "color": {"field": "dir", "type": "nominal", "scale": {"domain": ["up", "down", "flat"], "range": ["#ff0000", "#0000ff", "#000000"]}, "legend": null}
    }
  },
  {
    "width": 1917, "height": 182,
    "title": {"text": "1e8"},
    "mark": {"type": "line", "strokeWidth": 2},
    "encoding": {
      "x": {"field": "date", "type": "temporal", "scale": {"type": "utc", "domain": [{"year": 2022, "month": 12, "date": 18, "hours": 10, "minutes": 48, "utc": true}, {"year": 2024, "month": 1, "date": 30, "hours": 13, "minutes": 12, "utc": true}]}, "axis": null},
      "y": {"field": "obv", "type": "quantitative", "scale": {"domain": [10700000, 152400000], "nice": false, "zero": false}, "axis": {"title": null, "values": [25000000, 50000000, 75000000, 100000000, 125000000, 150000000], "labelExpr": "format(datum.value / 100000000, '.2f')"}},
      "color": {"datum": "OBV", "type": "nominal", "scale": {"domain": ["OBV"], "range": ["#0000ff"]}, "legend": {"title": null}}
    }
  },
  {
    "width": 1917, "height": 182,
    "mark": {"type": "line", "strokeWidth": 2},
    "encoding": {
      "x": {"field": "date", "type": "temporal", "scale": {"type": "utc", "domain": [{"year": 2022, "month": 12, "date": 18, "hours": 10, "minutes": 48, "utc": true}, {"year": 2024, "month": 1, "date": 30, "hours": 13, "minutes": 12, "utc": true}]}, "axis": null},
      "y": {"field": "cmf", "type": "quantitative", "scale": {"domain": [-0.826, 0.288], "nice": false, "zero": false}, "axis": {"title": null, "values": [-0.8, -0.6, -0.4, -0.2, 0, 0.2], "format": ".1f"}},
      "color": {"datum": "CMF(20)", "type": "nominal", "scale": {"domain": ["CMF(20)"], "range": ["#0000ff"]}, "legend": {"title": null}}
    }
  },
  {
    "width": 1917, "height": 182,
    "title": {"text": "1e6"},
    "mark": {"type": "line", "strokeWidth": 2},
    "encoding": {
      "x": {"field": "date", "type": "temporal", "scale": {"type": "utc", "domain": [{"year": 2022, "month": 12, "date": 18, "hours": 10, "minutes": 48, "utc": true}, {"year": 2024, "month": 1, "date": 30, "hours": 13, "minutes": 12, "utc": true}]}, "axis": {"title": null, "values": [{"year": 2023, "month": 1, "date": 1, "utc": true}, {"year": 2023, "month": 3, "date": 1, "utc": true}, {"year": 2023, "month": 5, "date": 1, "utc": true}, {"year": 2023, "month": 7, "date": 1, "utc": true}, {"year": 2023, "month": 9, "date": 1, "utc": true}, {"year": 2023, "month": 11, "date": 1, "utc": true}, {"year": 2024, "month": 1, "date": 1, "utc": true}], "format": "%Y-%m", "labelFlush": false, "labelOverlap": false}},
      "y": {"field": "vpt", "type": "quantitative", "scale": {"domain": [-1020000, 5380000], "nice": false, "zero": false}, "axis": {"title": null, "values": [0, 2000000, 4000000], "labelExpr": "format(datum.value / 1000000, 'd')"}},
      "color": {"datum": "VPT", "type": "nominal", "scale": {"domain": ["VPT"], "range": ["#0000ff"]}, "legend": {"title": null}}
    }
  }
]
}
